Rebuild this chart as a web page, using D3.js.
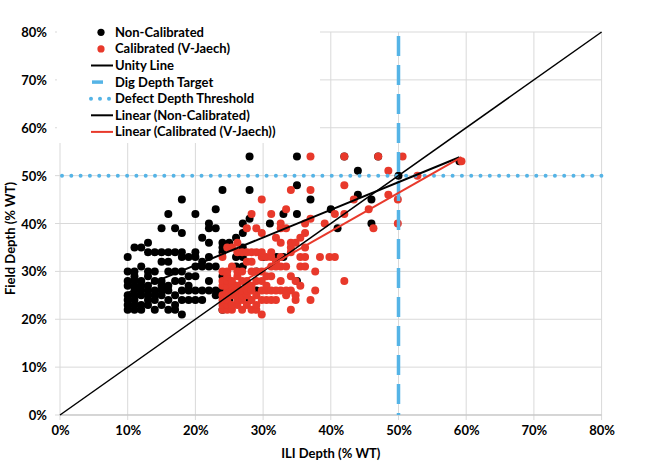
<!DOCTYPE html>
<html>
<head>
<meta charset="utf-8">
<script src="https://cdn.jsdelivr.net/npm/d3@7"></script>
<style>
  html, body { margin: 0; padding: 0; background: #fff; }
  text { font-family: Lato, "Open Sans", sans-serif; font-weight: bold; fill: #000; }
</style>
</head>
<body>
<svg id="chart" width="658" height="466"></svg>
<script>
// ---- Data (values in % WT) ----
const tickValues = [0, 10, 20, 30, 40, 50, 60, 70, 80];
const digDepthTarget = 50;      // vertical dashed line (ILI depth)
const defectDepthThreshold = 50; // horizontal dotted line (field depth)
const unityLine = [[0, 0], [80, 80]];

// Non-Calibrated: [ILI depth, Field depth]
const nonCalibrated = [
  [10,22],[10,23],[10,24],[10,25],[10,27],[10,28],[10,30],[10,33],
  [11,22],[11,23],[11,24],[11,25],[11,26],[11,27],[11,28],[11,29],[11,30],[11,35],
  [12,22],[12,23],[12,25],[12,26],[12,27],[12,28],[12,31],[12,35],
  [13,23],[13,24],[13,25],[13,26],[13,27],[13,29],[13,30],[13,34],[13,36],
  [14,22],[14,24],[14,25],[14,26],[14,28],[14,30],[14,34],
  [15,23],[15,25],[15,26],[15,27],[15,28],[15,32],[15,34],[15,39],
  [16,22],[16,24],[16,26],[16,27],[16,30],[16,32],[16,34],[16,42],
  [17,22],[17,23],[17,25],[17,28],[17,30],[17,34],[17,39],
  [18,21],[18,24],[18,26],[18,28],[18,30],[18,33],[18,34],[18,38],[18,45],
  [19,24],[19,26],[19,27],[19,29],[19,33],
  [20,24],[20,26],[20,29],[20,31],[20,33],[20,34],[20,42],
  [21,24],[21,26],[21,31],[21,32],[21,37],
  [22,26],[22,28],[22,31],[22,33],[22,36],[22,39],[22,40],
  [23,25],[23,26],[23,31],[23,39],[23,43],
  [24,22],[24,26],[24,29],[24,34],[24,35],[24,36],[24,47],
  [25,24],[25,25],[25,28],[25,36],
  [26,27],[26,31],[26,33],[26,37],
  [27,31],[27,33],[27,35],[27,38],[27,40],
  [28,24],[28,41],[28,47],[28,54],
  [29,26],[29,30],[30,33],[31,40],[32,33],[33,33],[33,42],
  [35,28],[35,42],[35,48],[35,54],
  [37,45],[40,43],[41,39],[42,54],[44,46],[44,51],[46,40],[46,45],
  [47,54],[50,50],[59,53]
];

// Calibrated (V-Jaech): [ILI depth, Field depth]
const calibrated = [
  [24.0,22],[24.0,23],[24.0,24],[24.0,25],[24.0,27],[24.0,28],[24.0,30],[24.0,33],
  [24.7,22],[24.7,23],[24.7,24],[24.7,25],[24.7,26],[24.7,27],[24.7,28],[24.7,29],[24.7,30],[24.7,35],
  [25.4,22],[25.4,23],[25.4,25],[25.4,26],[25.4,27],[25.4,28],[25.4,31],[25.4,35],
  [26.2,23],[26.2,24],[26.2,25],[26.2,26],[26.2,27],[26.2,29],[26.2,30],[26.2,34],[26.2,36],
  [26.9,22],[26.9,24],[26.9,25],[26.9,26],[26.9,28],[26.9,30],[26.9,34],
  [27.6,23],[27.6,25],[27.6,26],[27.6,27],[27.6,28],[27.6,32],[27.6,34],[27.6,39],
  [28.3,22],[28.3,24],[28.3,26],[28.3,27],[28.3,30],[28.3,32],[28.3,34],[28.3,42],
  [29.0,22],[29.0,23],[29.0,25],[29.0,28],[29.0,30],[29.0,34],[29.0,39],
  [29.8,21],[29.8,24],[29.8,26],[29.8,28],[29.8,30],[29.8,33],[29.8,34],[29.8,38],[29.8,45],
  [30.5,24],[30.5,26],[30.5,27],[30.5,29],[30.5,33],
  [31.2,24],[31.2,26],[31.2,29],[31.2,31],[31.2,33],[31.2,34],[31.2,42],
  [31.9,24],[31.9,26],[31.9,31],[31.9,32],[31.9,37],
  [32.6,26],[32.6,28],[32.6,31],[32.6,33],[32.6,36],[32.6,39],[32.6,40],
  [33.4,25],[33.4,26],[33.4,31],[33.4,39],[33.4,43],
  [34.1,22],[34.1,26],[34.1,29],[34.1,34],[34.1,35],[34.1,36],[34.1,47],
  [34.8,24],[34.8,25],[34.8,28],[34.8,36],
  [35.5,27],[35.5,31],[35.5,33],[35.5,37],
  [36.2,31],[36.2,33],[36.2,35],[36.2,38],[36.2,40],
  [37.0,24],[37.0,41],[37.0,47],[37.0,54],
  [37.7,26],[37.7,30],[38.4,33],[39.1,40],[39.8,33],[40.6,33],[40.6,42],
  [42.0,28],[42.0,42],[42.0,48],[42.0,54],
  [43.4,45],[45.6,43],[46.3,39],[47.0,54],[48.5,46],[48.5,51],[49.9,40],[49.9,45],
  [50.6,54],[52.8,50],[59.3,53]
];

// ---- Layout ----
const svg = d3.select("#chart");
const X0 = 60, X1 = 601.6, Y0 = 415, Y1 = 32;
const x = d3.scaleLinear().domain([0, 80]).range([X0, X1]);
const y = d3.scaleLinear().domain([0, 80]).range([Y0, Y1]);
const RED = "#E8392B", BLUE = "#55B4E6", GRID = "#d9d9d9";

svg.append("rect").attr("width", 658).attr("height", 466).attr("fill", "#fff");

// gridlines
const g = svg.append("g");
g.selectAll(".vg").data(tickValues).join("line")
  .attr("x1", d => x(d)).attr("x2", d => x(d))
  .attr("y1", Y1).attr("y2", Y0 + 5)
  .attr("stroke", GRID).attr("stroke-width", 1);
g.selectAll(".hg").data(tickValues).join("line")
  .attr("x1", X0 - 5).attr("x2", X1)
  .attr("y1", d => y(d)).attr("y2", d => y(d))
  .attr("stroke", GRID).attr("stroke-width", 1);
svg.append("line").attr("x1", X0).attr("x2", X1).attr("y1", Y0).attr("y2", Y0)
  .attr("stroke", "#bfbfbf").attr("stroke-width", 1);

// axis labels via d3 axes
const fmt = d => d + "%";
const yAxis = svg.append("g").attr("transform", `translate(${X0 - 13},0)`)
  .call(d3.axisLeft(y).tickValues(tickValues).tickFormat(fmt).tickSize(0).tickPadding(0));
yAxis.select(".domain").remove();
yAxis.selectAll("text").style("font-size", "13px").attr("dy", "0.35em");

const xAxis = svg.append("g").attr("transform", `translate(0,${Y0 + 10})`)
  .call(d3.axisBottom(x).tickValues(tickValues).tickFormat(fmt).tickSize(0).tickPadding(0));
xAxis.select(".domain").remove();
xAxis.selectAll("text").style("font-size", "13px").attr("dy", "0.75em");

svg.append("text").attr("x", (X0 + X1) / 2).attr("y", 458)
  .attr("text-anchor", "middle").style("font-size", "13px").text("ILI Depth (% WT)");
svg.append("text").attr("transform", `translate(15,${(Y0 + Y1) / 2 + 15}) rotate(-90)`)
  .attr("text-anchor", "middle").style("font-size", "13px").text("Field Depth (% WT)");

// linear regression
function linreg(pts) {
  const mx = d3.mean(pts, p => p[0]), my = d3.mean(pts, p => p[1]);
  let sxy = 0, sxx = 0;
  pts.forEach(p => { sxy += (p[0] - mx) * (p[1] - my); sxx += (p[0] - mx) ** 2; });
  const m = sxy / sxx, b = my - m * mx;
  const [lo, hi] = d3.extent(pts, p => p[0]);
  return [[lo, m * lo + b], [hi, m * hi + b]];
}
const line = d3.line().x(d => x(d[0])).y(d => y(d[1]));

// points
svg.append("g").selectAll("circle").data(nonCalibrated).join("circle")
  .attr("cx", d => x(d[0])).attr("cy", d => y(d[1])).attr("r", 4).attr("fill", "#000");
svg.append("g").selectAll("circle").data(calibrated).join("circle")
  .attr("cx", d => x(d[0])).attr("cy", d => y(d[1])).attr("r", 4).attr("fill", RED);

// reference lines
svg.append("line").attr("x1", x(digDepthTarget)).attr("x2", x(digDepthTarget))
  .attr("y1", 36).attr("y2", Y0)
  .attr("stroke", BLUE).attr("stroke-width", 3.5).attr("stroke-dasharray", "20 9");
svg.append("line").attr("x1", X0 + 2).attr("x2", X1)
  .attr("y1", y(defectDepthThreshold)).attr("y2", y(defectDepthThreshold))
  .attr("stroke", BLUE).attr("stroke-width", 4).attr("stroke-linecap", "round")
  .attr("stroke-dasharray", "0 9.3");

svg.append("path").datum(unityLine).attr("d", line)
  .attr("fill", "none").attr("stroke", "#000").attr("stroke-width", 1.5);
svg.append("path").datum(linreg(nonCalibrated)).attr("d", line)
  .attr("fill", "none").attr("stroke", "#000").attr("stroke-width", 2);
svg.append("path").datum(linreg(calibrated)).attr("d", line)
  .attr("fill", "none").attr("stroke", RED).attr("stroke-width", 2);

// legend
const legendItems = [
  { label: "Non-Calibrated", type: "dot", color: "#000" },
  { label: "Calibrated (V-Jaech)", type: "dot", color: RED },
  { label: "Unity Line", type: "line", color: "#000" },
  { label: "Dig Depth Target", type: "dash", color: BLUE },
  { label: "Defect Depth Threshold", type: "dots", color: BLUE },
  { label: "Linear (Non-Calibrated)", type: "line", color: "#000" },
  { label: "Linear (Calibrated (V-Jaech))", type: "line", color: RED }
];
const lg = svg.append("g");
lg.append("rect").attr("x", 57).attr("y", 20).attr("width", 263).attr("height", 123).attr("fill", "#fff");
legendItems.forEach((it, i) => {
  const cy = 32.3 + i * 16.6;
  if (it.type === "dot") {
    lg.append("circle").attr("cx", 101).attr("cy", cy).attr("r", 3.6).attr("fill", it.color);
  } else if (it.type === "line") {
    lg.append("line").attr("x1", 91).attr("x2", 113).attr("y1", cy).attr("y2", cy)
      .attr("stroke", it.color).attr("stroke-width", 2);
  } else if (it.type === "dash") {
    lg.append("line").attr("x1", 92).attr("x2", 103).attr("y1", cy).attr("y2", cy)
      .attr("stroke", it.color).attr("stroke-width", 3.5);
  } else {
    lg.append("line").attr("x1", 91).attr("x2", 112).attr("y1", cy).attr("y2", cy)
      .attr("stroke", it.color).attr("stroke-width", 4).attr("stroke-linecap", "round")
      .attr("stroke-dasharray", "0 9");
  }
  lg.append("text").attr("x", 115).attr("y", cy).attr("dy", "0.35em")
    .style("font-size", "13px").text(it.label);
});
</script>
</body>
</html>
